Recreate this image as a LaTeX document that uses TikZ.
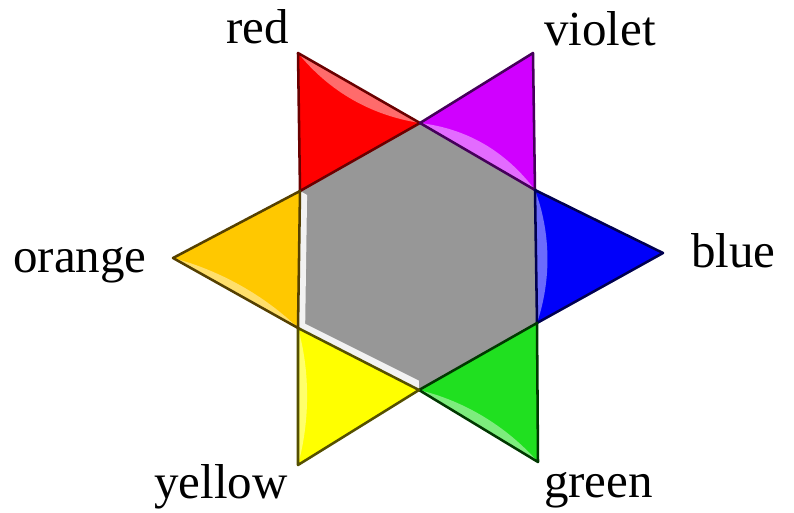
\documentclass[tikz,border=0pt]{standalone}
\usepackage{fontspec}
\setmainfont{Liberation Serif}
\usetikzlibrary{calc}
\definecolor{hexgray}{HTML}{979797}
\definecolor{cred}{HTML}{FF0000}\definecolor{dred}{HTML}{6A0000}
\definecolor{cviolet}{HTML}{D000FF}\definecolor{dviolet}{HTML}{45005A}
\definecolor{cblue}{HTML}{0000FA}\definecolor{dblue}{HTML}{000050}
\definecolor{cgreen}{HTML}{20E020}\definecolor{dgreen}{HTML}{003800}
\definecolor{cyellow}{HTML}{FFFF00}\definecolor{dyellow}{HTML}{555000}
\definecolor{corange}{HTML}{FFC800}\definecolor{dorange}{HTML}{554000}
\tikzset{
  tri/.style={line width=1.9pt,line join=round},
  shinefill/.style={white,opacity=0.42},
  lbl/.style={anchor=base,inner sep=0pt,font=\fontsize{36.75}{44}\selectfont}
}
\newcommand\myshine[4]{%
  \fill[shinefill] (#1) -- (#2) .. controls ($(#2)!0.3!(#1)!#4!(#3)$) and ($(#1)!0.3!(#2)!#4!(#3)$) .. (#1) -- cycle;}
\begin{document}
\begin{tikzpicture}[x=0.75pt,y=-0.75pt]
\useasboundingbox (0,0) rectangle (794,512);
% hexagon vertices
\coordinate (H1) at (420,123);
\coordinate (H2) at (535,190);
\coordinate (H3) at (537,323);
\coordinate (H4) at (419,390);
\coordinate (H5) at (298,328);
\coordinate (H6) at (300,191);
\coordinate (Cen) at (418,257);
% star tips
\coordinate (R) at (298,53);
\coordinate (V) at (533,53);
\coordinate (B) at (663,253);
\coordinate (G) at (538,462);
\coordinate (Y) at (298,465);
\coordinate (O) at (173,258);
% hexagon
\fill[hexgray] (H1) -- (H2) -- (H3) -- (H4) -- (H5) -- (H6) -- cycle;
\fill[white!90!gray] (H6) -- (H5) -- (H4) -- ($(Cen)!0.93!(H4)$) -- ($(Cen)!0.94!(H5)$) -- ($(Cen)!0.94!(H6)$) -- cycle;
% triangles
\fill[cred] (R) -- (H1) -- (H6) -- cycle;
\myshine{R}{H1}{H6}{0.15}
\draw[tri,dred] (R) -- (H1) -- (H6) -- cycle;
\fill[cviolet] (V) -- (H2) -- (H1) -- cycle;
\myshine{H1}{H2}{V}{0.16}
\draw[tri,dviolet] (V) -- (H2) -- (H1) -- cycle;
\fill[cblue] (B) -- (H3) -- (H2) -- cycle;
\myshine{H2}{H3}{B}{0.12}
\draw[tri,dblue] (B) -- (H3) -- (H2) -- cycle;
\fill[cgreen] (G) -- (H4) -- (H3) -- cycle;
\myshine{H4}{G}{H3}{0.12}
\draw[tri,dgreen] (G) -- (H4) -- (H3) -- cycle;
\fill[cyellow] (Y) -- (H5) -- (H4) -- cycle;
\myshine{H5}{Y}{H4}{0.10}
\draw[tri,dyellow] (Y) -- (H5) -- (H4) -- cycle;
\fill[corange] (O) -- (H6) -- (H5) -- cycle;
\myshine{O}{H5}{H6}{0.10}
\draw[tri,dorange] (O) -- (H6) -- (H5) -- cycle;
% labels
\node[lbl] (lred) at (257.5,43) {red};
\node[lbl] (lviolet) at (600,45) {violet};
\node[lbl] (lblue) at (733.5,267) {blue};
\node[lbl] (lgreen) at (598.5,497) {green};
\node[lbl] (lyellow) at (221,498) {yellow};
\node[lbl] (lorange) at (80,272) {orange};
\end{tikzpicture}
\end{document}
